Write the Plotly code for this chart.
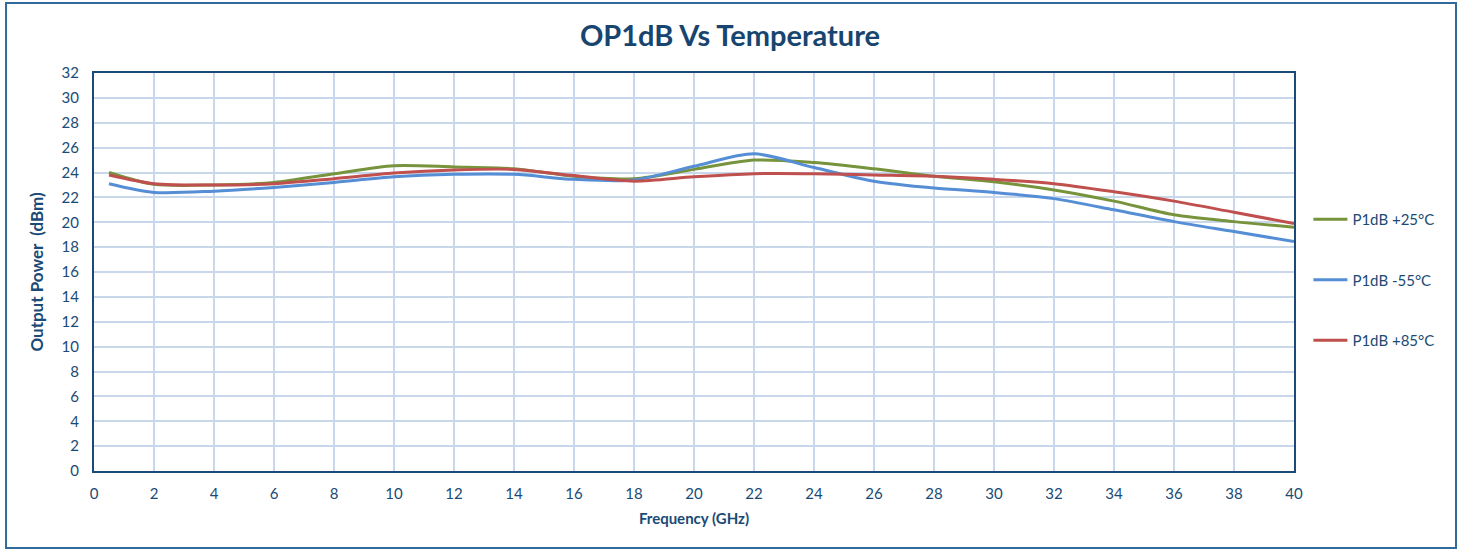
import plotly.graph_objects as go

freq_ghz = [0.5, 2, 4, 6, 8, 10, 12, 14, 16, 18, 20, 22, 24, 26, 28, 30, 32, 34, 36, 38, 40]
p1db_25c = [24.0, 23.05, 23.0, 23.2, 23.9, 24.55, 24.45, 24.3, 23.7, 23.5, 24.25, 25.0, 24.8, 24.3, 23.7, 23.25, 22.6, 21.7, 20.6, 20.05, 19.6]
p1db_m55c = [23.1, 22.4, 22.5, 22.8, 23.2, 23.65, 23.85, 23.85, 23.45, 23.4, 24.5, 25.5, 24.4, 23.3, 22.75, 22.4, 21.9, 21.0, 20.05, 19.25, 18.45]
p1db_85c = [23.8, 23.1, 23.0, 23.1, 23.5, 23.95, 24.2, 24.25, 23.75, 23.3, 23.65, 23.9, 23.9, 23.8, 23.7, 23.45, 23.1, 22.45, 21.7, 20.8, 19.9]

NAVY = "#1A4A75"
GRID = "#C9D7EB"
FONT = "Lato, 'Open Sans', sans-serif"

series = [
    ("P1dB +25°C", p1db_25c, "#77933C"),
    ("P1dB -55°C", p1db_m55c, "#558ED5"),
    ("P1dB +85°C", p1db_85c, "#C0504D"),
]

fig = go.Figure()
for name, values, color in series:
    fig.add_scatter(
        x=freq_ghz,
        y=values,
        name=name,
        legendgroup=name,
        mode="lines",
        line=dict(color=color, width=3, shape="spline", smoothing=0.8),
    )

fig.update_layout(
    width=1460,
    height=550,
    margin=dict(l=94, r=166, t=73, b=79),
    paper_bgcolor="white",
    plot_bgcolor="white",
    font=dict(family=FONT, color=NAVY, size=15),
    title=dict(
        text="<b>OP1dB Vs Temperature</b>",
        x=0.5,
        xref="container",
        xanchor="center",
        y=0.935,
        yanchor="middle",
        font=dict(size=29, color="#17456F", family=FONT),
    ),
    legend=dict(
        x=1.012,
        xanchor="left",
        y=0.48,
        yanchor="middle",
        tracegroupgap=38,
        font=dict(size=15, color=NAVY),
        itemwidth=34,
    ),
    shapes=[
        dict(
            type="rect",
            xref="paper",
            yref="paper",
            x0=-0.0733,
            x1=1.135,
            y0=-0.1935,
            y1=1.176,
            line=dict(color="#2F6A9A", width=2),
            fillcolor="rgba(0,0,0,0)",
            layer="below",
        )
    ],
)

fig.update_xaxes(
    range=[0, 40],
    dtick=2,
    showgrid=True,
    gridcolor=GRID,
    gridwidth=1.5,
    showline=True,
    linecolor=NAVY,
    linewidth=2,
    mirror=True,
    ticks="",
    ticklabelstandoff=8,
    zeroline=False,
    tickfont=dict(size=15, color=NAVY),
    title=dict(text="<b>Frequency (GHz)</b>", font=dict(size=15, color=NAVY), standoff=12),
)
fig.update_yaxes(
    range=[0, 32],
    dtick=2,
    showgrid=True,
    gridcolor=GRID,
    gridwidth=1.5,
    showline=True,
    linecolor=NAVY,
    linewidth=2,
    mirror=True,
    ticks="",
    ticklabelstandoff=10,
    zeroline=False,
    tickfont=dict(size=15, color=NAVY),
    title=dict(text="<b>Output Power&nbsp;&nbsp;(dBm)</b>", font=dict(size=17, color=NAVY), standoff=14),
)

fig.write_html(
    "out.html",
    config={"displayModeBar": False},
    post_script="document.body.style.margin='0';",
)
